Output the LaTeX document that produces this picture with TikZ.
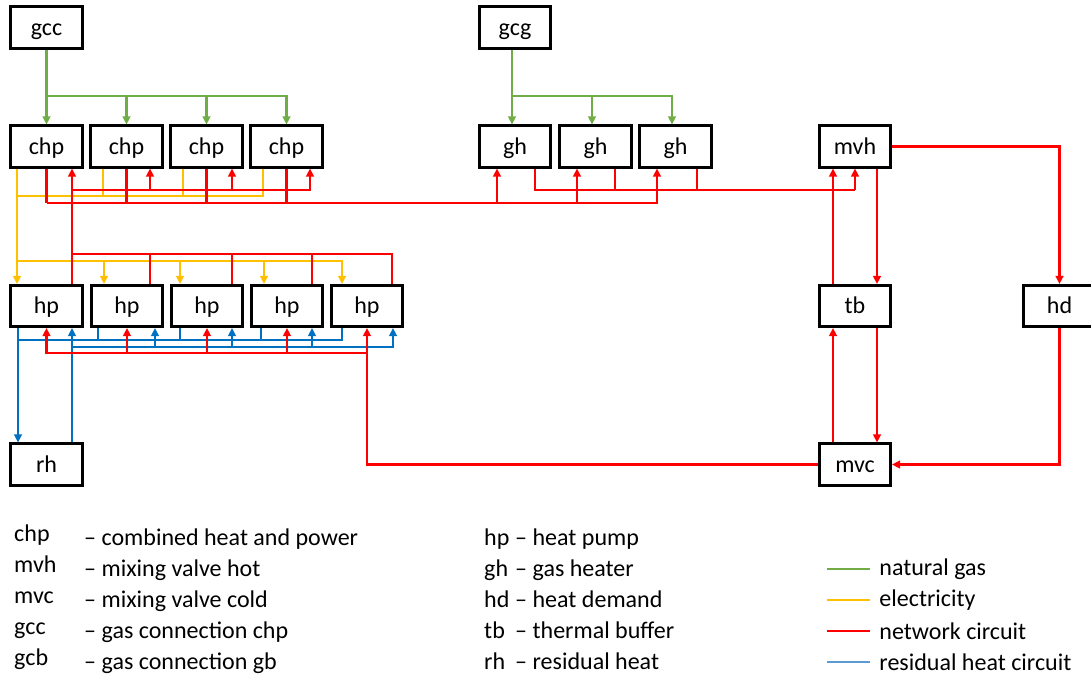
\documentclass[tikz,border=0pt]{standalone}
\usepackage{fontspec}
\setmainfont{Carlito}
\usetikzlibrary{arrows.meta}
\definecolor{gasgreen}{HTML}{70AD47}
\definecolor{elecyellow}{HTML}{FFC000}
\definecolor{netred}{HTML}{FF0000}
\definecolor{resblue}{HTML}{0070C0}
\definecolor{legblue}{HTML}{5B9BD5}
\newcommand{\diafont}{\fontsize{20.5pt}{24pt}\selectfont}
\tikzset{
  unit/.style    = {draw, line width=2.3pt, minimum width=2.14cm,
                    minimum height=1.24cm, inner sep=0pt, font=\diafont,
                    text height=14pt, text depth=1pt},
  gas/.style     = {-, line width=2.1pt, gasgreen},
  elec/.style    = {-, line width=2.1pt, elecyellow},
  net/.style     = {-, line width=2.1pt, netred},
  resid/.style   = {-, line width=2.1pt, resblue},
  tip/.style     = {-{Triangle[length=2.4mm,width=2.3mm]}},
  legtext/.style = {anchor=base west, inner sep=0pt, font=\diafont, text=black},
}

\begin{document}
\begin{tikzpicture}[x=0.03cm, y=-0.03cm]
    \useasboundingbox (0,0) rectangle (1091,675);
    \clip (0,0) rectangle (1091,675);
    % --- gas connections ----------------------------------------------
    \node[unit] (gcc)  at (46.5,27.5)  {gcc};
    \node[unit] (gcg)  at (515,27.5)   {gcg};
    % --- producers ----------------------------------------------------
    \node[unit] (chp1) at (46.5,146.5)  {chp};
    \node[unit] (chp2) at (126.5,146.5) {chp};
    \node[unit] (chp3) at (206.5,146.5) {chp};
    \node[unit] (chp4) at (286.5,146.5) {chp};
    \node[unit] (gh1)  at (515,146.5)   {gh};
    \node[unit] (gh2)  at (595.5,146.5) {gh};
    \node[unit] (gh3)  at (675.5,146.5) {gh};
    \node[unit] (hp1)  at (46.5,306)  {hp};
    \node[unit] (hp2)  at (127,306)   {hp};
    \node[unit] (hp3)  at (207,306)   {hp};
    \node[unit] (hp4)  at (287,306)   {hp};
    \node[unit] (hp5)  at (367,306)   {hp};
    \node[unit] (rh)   at (46.5,464.5) {rh};
    % --- network side -------------------------------------------------
    \node[unit] (mvh)  at (855,146.5)  {mvh};
    \node[unit] (tb)   at (855,306)    {tb};
    \node[unit] (hd)   at (1059.5,306) {hd};
    \node[unit] (mvc)  at (855,464.5)  {mvc};
    % --- bus points ---------------------------------------------------
    \coordinate (gasA)   at (46.5,96);
    \coordinate (gasB)   at (512,96);
    \coordinate (elbus)  at (17,261);
    \coordinate (chpout) at (47,203);
    \coordinate (ghout)  at (855,190);
    \coordinate (chpin)  at (72,190);
    \coordinate (hpout)  at (72,254);
    \coordinate (coldin) at (367,353);
    \coordinate (resout) at (18,340);
    \coordinate (resin)  at (72,347);
    % --- natural gas --------------------------------------------------
    \draw[gas,tip] (gcc) -- (chp1);
    \foreach \n in {2,3,4} \draw[gas,tip] (gasA) -| (chp\n.north);
    \draw[gas,tip] (512,0 |- gcg.south) -- (512,0 |- gh1.north);
    \foreach \n/\x in {2/592,3/672} \draw[gas,tip] (gasB) -| (\x,0 |- gh\n.north);
    % --- electricity --------------------------------------------------
    \draw[elec,tip] (17,0 |- chp1.south) -- (17,0 |- hp1.north);
    \foreach \n/\x in {2/103,3/183,4/263} \draw[elec] (\x,0 |- chp\n.south) |- (17,196);
    \foreach \n/\x in {2/104,3/180,4/264,5/342} \draw[elec,tip] (elbus) -| (\x,0 |- hp\n.north);
    % --- residual heat circuit ----------------------------------------
    \draw[resid,tip] (18,0 |- hp1.south) -- (18,0 |- rh.north);
    \foreach \n/\x in {2/98,3/180,4/261,5/342} \draw[resid] (\x,0 |- hp\n.south) |- (resout);
    \draw[resid,tip] (72,0 |- rh.north) -- (72,0 |- hp1.south);
    \foreach \n/\x in {2/155,3/232,4/312,5/393} \draw[resid,tip] (resin) -| (\x,0 |- hp\n.south);
    % --- network circuit ----------------------------------------------
    \foreach \n in {1,...,4} \draw[net] (chp\n.south) -- (chp\n.south |- chpout);
    \foreach \n/\x in {1/497,2/577,3/657} \draw[net,tip] (chpout) -| (\x,0 |- gh\n.south);
    \foreach \n/\x in {1/535,2/615,3/697} \draw[net] (\x,0 |- gh\n.south) |- (ghout);
    \draw[net,tip] (ghout) -- (ghout |- mvh.south);
    \foreach \n/\x in {2/150,3/232,4/312,5/392} \draw[net] (\x,0 |- hp\n.north) |- (hpout);
    \draw[net,tip] (72,0 |- hp1.north) -- (72,0 |- chp1.south);
    \foreach \n/\x in {2/150,3/232,4/310} \draw[net,tip] (chpin) -| (\x,0 |- chp\n.south);
    \draw[net,tip] (877,0 |- mvh.south) -- (877,0 |- tb.north);
    \draw[net,tip] (833,0 |- tb.north) -- (833,0 |- mvh.south);
    \draw[net,tip] (mvh.east) -| (hd.north);
    \draw[net,tip] (hd.south) |- (mvc.east);
    \draw[net,tip] (833,0 |- mvc.north) -- (833,0 |- tb.south);
    \draw[net,tip] (877,0 |- tb.south) -- (877,0 |- mvc.north);
    \draw[net,tip] (mvc.west) -| (hp5.south);
    \foreach \n in {1,...,4} \draw[net,tip] (coldin) -| (hp\n.south);
    % --- legend -------------------------------------------------------
    \node[legtext] (kchp) at (14,541) {chp};
    \node[legtext] (kmvh) at (14,572) {mvh};
    \node[legtext] (kmvc) at (14,603) {mvc};
    \node[legtext] (kgcc) at (14,634) {gcc};
    \node[legtext] (kgcb) at (14,665) {gcb};
    \node[legtext] at (84,545) {\textendash{} combined heat and power};
    \node[legtext] at (84,576) {\textendash{} mixing valve hot};
    \node[legtext] at (84,607) {\textendash{} mixing valve cold};
    \node[legtext] at (84,638) {\textendash{} gas connection chp};
    \node[legtext] at (84,669) {\textendash{} gas connection gb};
    \node[legtext] (khp) at (484,545) {hp};
    \node[legtext] (kgh) at (484,576) {gh};
    \node[legtext] (khd) at (484,607) {hd};
    \node[legtext] (ktb) at (484,638) {tb};
    \node[legtext] (krh) at (484,669) {rh};
    \node[legtext] at (515,545) {\textendash{} heat pump};
    \node[legtext] at (515,576) {\textendash{} gas heater};
    \node[legtext] at (515,607) {\textendash{} heat demand};
    \node[legtext] at (515,638) {\textendash{} thermal buffer};
    \node[legtext] at (515,669) {\textendash{} residual heat};
    \draw[gas]              (827,569) -- (870,569) node[legtext,anchor=west,xshift=7] {natural gas};
    \draw[elec]             (827,600) -- (870,600) node[legtext,anchor=west,xshift=7] {electricity};
    \draw[net]              (827,631) -- (870,631) node[legtext,anchor=west,xshift=7] {network circuit};
    \draw[resid,legblue]    (827,662) -- (870,662) node[legtext,anchor=west,xshift=7] {residual heat circuit};
  \end{tikzpicture}
\end{document}
